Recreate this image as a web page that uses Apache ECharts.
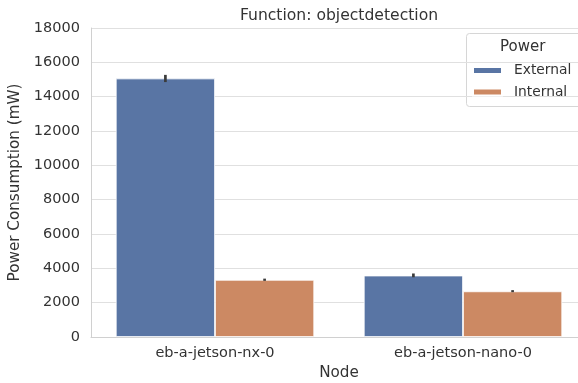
<!DOCTYPE html>
<html><head><meta charset="utf-8">
<script src="https://cdn.jsdelivr.net/npm/echarts@6/dist/echarts.min.js"></script>
<style>html,body{margin:0;padding:0;background:#fff}#c{width:578px;height:383px}</style>
</head><body><div id="c"></div>
<script>
const nodes = ['eb-a-jetson-nx-0', 'eb-a-jetson-nano-0'];
const seriesNames = ['External', 'Internal'];
const externalMean = [15060, 3580];
const internalMean = [3330, 2660];
const externalLow = [14850, 3480];
const externalHigh = [15270, 3700];
const internalLow = [3270, 2610];
const internalHigh = [3400, 2730];
const yTicks = [0, 2000, 4000, 6000, 8000, 10000, 12000, 14000, 16000, 18000];

const font = 'DejaVu Sans';
const txt = '#333333';

function errSeries(lo, hi, side) {
  return {
    type: 'custom',
    silent: true,
    z: 5,
    data: nodes.map((n, i) => [i, lo[i], hi[i]]),
    encode: { x: 0, y: [1, 2] },
    renderItem: function (params, api) {
      const i = api.value(0);
      const band = api.size([1, 0])[0];
      const p1 = api.coord([i, api.value(1)]);
      const p2 = api.coord([i, api.value(2)]);
      const x = p1[0] + side * 0.2 * band;
      return {
        type: 'line',
        shape: { x1: x, y1: p1[1], x2: x, y2: p2[1] },
        style: { stroke: '#3b3b3b', lineWidth: 2.7 }
      };
    }
  };
}

const chart = echarts.init(document.getElementById('c'), null, { renderer: 'canvas' });
chart.setOption({
  animation: false,
  backgroundColor: '#ffffff',
  title: {
    text: 'Function: objectdetection',
    left: 339, top: 8, textAlign: 'center', padding: 0,
    textStyle: { fontFamily: font, fontSize: 15.6, fontWeight: 'normal', color: txt }
  },
  grid: { left: 91, top: 28, width: 496, height: 309, containLabel: false, outerBoundsMode: 'none' },
  xAxis: {
    type: 'category',
    data: nodes,
    name: 'Node',
    nameLocation: 'middle',
    nameGap: 27,
    nameTextStyle: { fontFamily: font, fontSize: 15.2, color: txt },
    axisLine: { show: true, lineStyle: { color: '#d0d0d0', width: 1 } },
    axisTick: { show: false },
    axisLabel: { fontFamily: font, fontSize: 14.5, color: txt, margin: 9 },
    splitLine: { show: false }
  },
  yAxis: {
    type: 'value',
    min: yTicks[0],
    max: yTicks[yTicks.length - 1],
    interval: 2000,
    name: 'Power Consumption (mW)',
    nameLocation: 'middle',
    nameGap: 59,
    nameTextStyle: { fontFamily: font, fontSize: 15.2, color: txt },
    axisLine: { show: true, lineStyle: { color: '#d0d0d0', width: 1 } },
    axisTick: { show: false },
    axisLabel: { fontFamily: font, fontSize: 14.5, color: txt, margin: 11, formatter: v => String(v) },
    splitLine: { show: true, lineStyle: { color: '#e0e0e0', width: 1 } }
  },
  legend: {
    orient: 'vertical',
    left: 472, top: 63, padding: 0, z: 20,
    itemWidth: 29, itemHeight: 7, itemGap: 6.5,
    icon: 'rect',
    data: seriesNames,
    textStyle: { fontFamily: font, fontSize: 13.8, lineHeight: 15, color: txt, padding: [0, 0, 0, 7] }
  },
  graphic: [
    { type: 'rect', left: 466, top: 33, z: 0, shape: { x: 0, y: 0, width: 116, height: 73, r: 3 },
      style: { fill: '#ffffff', stroke: '#d6d6d6', lineWidth: 1 } },
    { type: 'text', left: 500, top: 40, z: 1,
      style: { text: 'Power', font: '15px "DejaVu Sans"', fill: txt } }
  ],
  series: [
    { name: seriesNames[0], type: 'bar', data: externalMean, barGap: '0%', barCategoryGap: '20%',
      itemStyle: { color: '#5975a4', borderColor: '#ffffff', borderWidth: 0.8 } },
    { name: seriesNames[1], type: 'bar', data: internalMean, barGap: '0%', barCategoryGap: '20%',
      itemStyle: { color: '#cc8963', borderColor: '#ffffff', borderWidth: 0.8 } },
    errSeries(externalLow, externalHigh, -1),
    errSeries(internalLow, internalHigh, 1)
  ]
});
</script>
</body></html>
